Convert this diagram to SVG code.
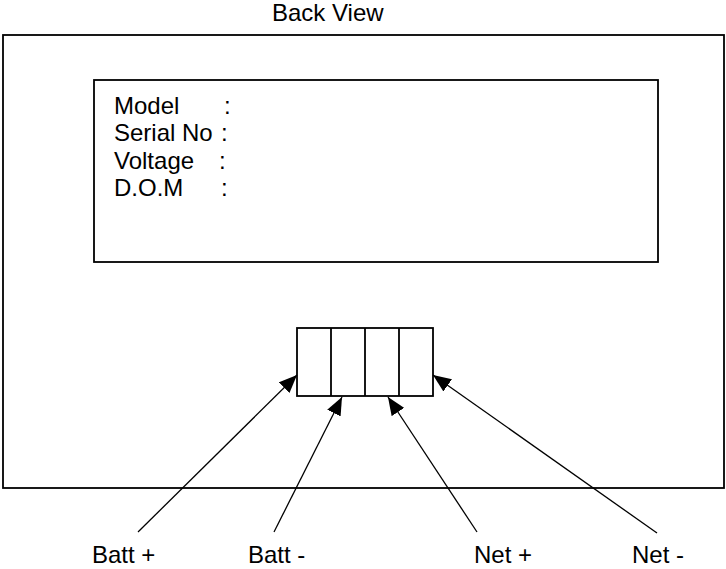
<svg xmlns="http://www.w3.org/2000/svg" width="726" height="569" viewBox="0 0 726 569">
<style>
.box{fill:none;stroke:#000;stroke-width:1.8}
.t{font-family:"Liberation Sans",Arial,sans-serif;font-size:24px;fill:#000}
.c{stroke:#000;stroke-width:1.3;fill:none}
</style>
<defs>
<marker id="ah" viewBox="0 0 18 15" refX="18" refY="7.5" markerWidth="18" markerHeight="15" markerUnits="userSpaceOnUse" orient="auto">
<path d="M0,0 L18,7.5 L0,15 z" fill="#000"/>
</marker>
</defs>
<rect width="726" height="569" fill="#fff"/>
<text class="t" x="272" y="21">Back View</text>
<g id="housing"><rect class="box" x="3" y="35" width="721" height="453"/></g>
<g id="label-plate">
<rect class="box" x="94" y="80" width="564" height="182"/>
<text class="t" x="114" y="114">Model</text><text class="t" x="224" y="114">:</text>
<text class="t" x="114" y="141">Serial No</text><text class="t" x="221" y="141">:</text>
<text class="t" x="114" y="169">Voltage</text><text class="t" x="219" y="169">:</text>
<text class="t" x="114" y="196">D.O.M</text><text class="t" x="221" y="196">:</text>
</g>
<g id="terminal-block">
<rect class="box" x="297" y="328" width="136" height="68"/>
<line class="box" x1="331" y1="328" x2="331" y2="396"/>
<line class="box" x1="365" y1="328" x2="365" y2="396"/>
<line class="box" x1="399" y1="328" x2="399" y2="396"/>
</g>
<g id="connectors">
<line class="c" x1="138" y1="532" x2="297" y2="375" marker-end="url(#ah)"/>
<line class="c" x1="274" y1="532" x2="342" y2="397" marker-end="url(#ah)"/>
<line class="c" x1="477" y1="532" x2="388" y2="397" marker-end="url(#ah)"/>
<line class="c" x1="657" y1="533" x2="433" y2="375" marker-end="url(#ah)"/>
</g>
<g id="labels">
<text class="t" x="92" y="563">Batt +</text>
<text class="t" x="248" y="563">Batt -</text>
<text class="t" x="474" y="563">Net +</text>
<text class="t" x="632" y="563">Net -</text>
</g>
</svg>
